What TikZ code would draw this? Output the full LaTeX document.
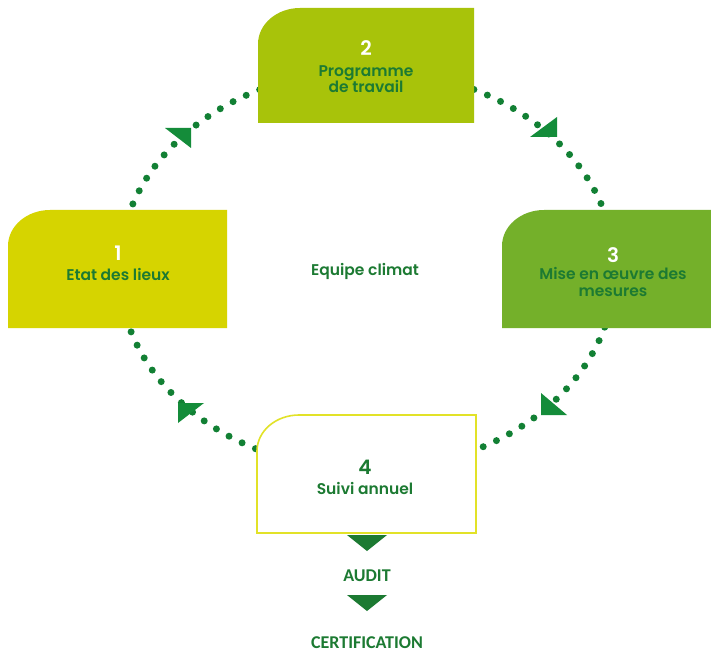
\documentclass[tikz,border=0pt]{standalone}
\usepackage{fontspec}
\setmainfont{Fira Sans}
\newfontfamily\labfont{Poppins}[UprightFont=* Medium,BoldFont=* SemiBold]
\newfontfamily\capfont{Carlito}
\definecolor{boxone}{RGB}{214,212,0}
\definecolor{boxtwo}{RGB}{168,195,10}
\definecolor{boxthree}{RGB}{116,176,42}
\definecolor{boxfourline}{RGB}{226,226,40}
\definecolor{tgreen}{RGB}{28,122,50}
\definecolor{dotgreen}{RGB}{18,128,52}
\definecolor{trigreen}{RGB}{20,140,58}
\newcommand\mybox[5]{%
  \path[#1] (#2,#5) -- (#2,#3+36) .. controls (#2,#3+16) and (#2+19,#3) .. (#2+42,#3) -- (#4,#3) -- (#4,#5) -- cycle;}
\begin{document}
\begin{tikzpicture}[x=1pt,y=-1pt,
  dotline/.style={draw=dotgreen,line width=7pt,line cap=round,dash pattern=on 0pt off 14.6pt},
  tri/.style={fill=trigreen},
  downtri/.style={fill=tgreen},
  lbl/.style={text=tgreen,font=\labfont\bfseries\fontsize{15.5}{16.5}\selectfont,align=center,inner sep=0pt},
  num/.style={text=white,font=\labfont\bfseries\fontsize{20}{22}\selectfont,inner sep=0pt},
  capt/.style={text=tgreen,font=\capfont\bfseries\fontsize{18}{20}\selectfont,inner sep=0pt}]
\useasboundingbox (0,0) rectangle (711,652);
\fill[white] (0,0) rectangle (711,652);
% cycle of dots
\coordinate (c) at (367,270);
\draw[dotline] (c) ellipse [x radius=248, y radius=200];
% direction triangles
\fill[tri] (165,128) -- (191,128) -- (191,148) -- cycle;
\fill[tri] (557,117) -- (557,137) -- (530,137) -- cycle;
\fill[tri] (541,393) -- (541,415) -- (567,415) -- cycle;
\fill[tri] (178,403) -- (204,403) -- (178,423) -- cycle;
% boxes
\mybox{fill=boxone}{8}{210}{227}{328}
\mybox{fill=boxtwo}{258}{8}{474}{123}
\mybox{fill=boxthree}{502}{210}{711}{328}
\mybox{fill=white,draw=boxfourline,line width=1.6pt}{257}{415}{476}{533}
% texts
\node[num] (n1) at (118,253) {1};
\node[lbl] (t1) at (118,274) {Etat des lieux};
\node[num] (n2) at (366,48) {2};
\node[lbl] (t2) at (366,79) {Programme\\de travail};
\node[num] (n3) at (613,255) {3};
\node[lbl] (t3) at (613,282) {Mise en œuvre des\\mesures};
\node[num,text=tgreen] (n4) at (365,467) {4};
\node[lbl] (t4) at (365,488) {Suivi annuel};
\node[lbl] (eq) at (365,271) {Equipe climat};
% audit chain
\fill[downtri] (347,535) -- (387,535) -- (367,551) -- cycle;
\node[capt] (audit) at (367,576) {AUDIT};
\fill[downtri] (347,595) -- (387,595) -- (367,611) -- cycle;
\node[capt] (cert) at (367,643) {CERTIFICATION};
\end{tikzpicture}
\end{document}
